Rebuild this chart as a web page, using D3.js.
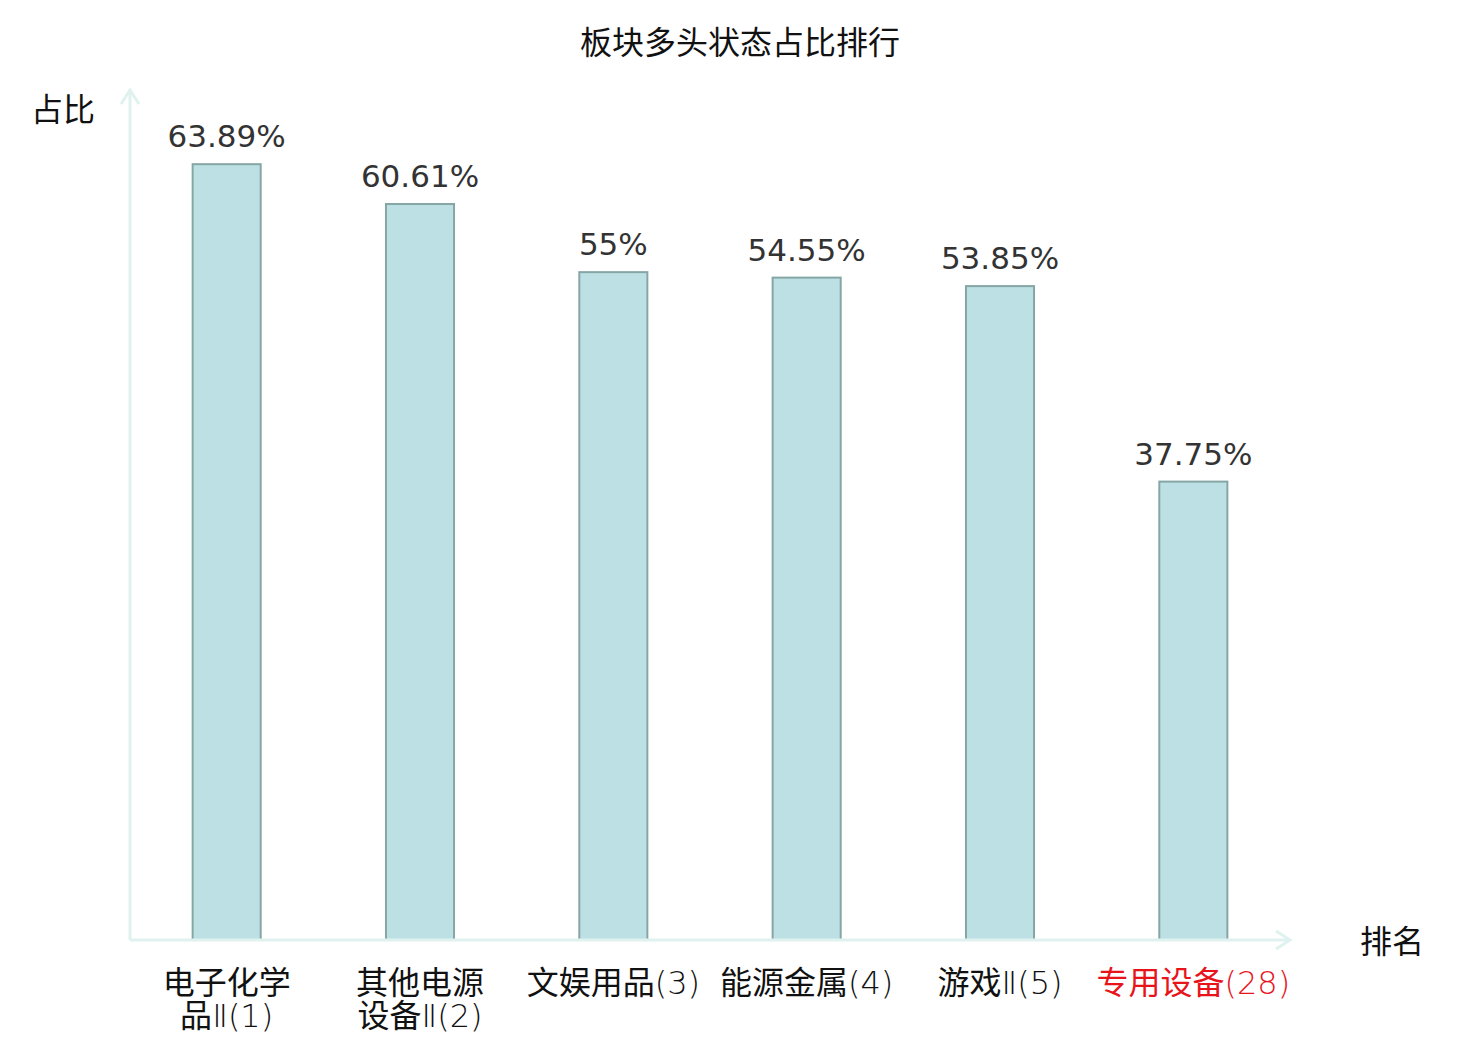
<!DOCTYPE html>
<html>
<head>
<meta charset="utf-8">
<script src="https://cdn.jsdelivr.net/npm/d3@7"></script>
<style>
  body { margin: 0; background: #fff; }
  svg { display: block; }
  text { font-family: "DejaVu Sans", "Noto Sans CJK SC", sans-serif; }
  .cjk { font-family: "Noto Sans CJK SC", sans-serif; }
  .thin { font-family: "DejaVu Sans", sans-serif; font-weight: 200; }
</style>
</head>
<body>
<svg width="1480" height="1040"></svg>
<script>
var categories = ["电子化学品Ⅱ(1)", "其他电源设备Ⅱ(2)", "文娱用品(3)", "能源金属(4)", "游戏Ⅱ(5)", "专用设备(28)"];
var labelLines = [["电子化学", "品Ⅱ(1)"], ["其他电源", "设备Ⅱ(2)"], ["文娱用品(3)"], ["能源金属(4)"], ["游戏Ⅱ(5)"], ["专用设备(28)"]];
var values = [63.89, 60.61, 55, 54.55, 53.85, 37.75];
var highlight = [false, false, false, false, false, true];

var svg = d3.select("svg"),
    margin = {top: 90, right: 190, bottom: 100, left: 130},
    width = +svg.attr("width") - margin.left - margin.right,
    height = +svg.attr("height") - margin.top - margin.bottom;

var axisColor = "#dff2ef";

var xScale = d3.scaleBand().domain(categories).range([0, width]).paddingInner(0.648).paddingOuter(0.324);
var yScale = d3.scaleLinear().domain([0, 70]).range([height, 0]);

var g = svg.append("g")
    .attr("transform", "translate(" + margin.left + "," + margin.top + ")");

// title
svg.append("text")
    .attr("class", "cjk")
    .attr("x", 740)
    .attr("y", 54)
    .attr("text-anchor", "middle")
    .attr("font-size", 32)
    .attr("fill", "#111")
    .text("板块多头状态占比排行");

// bars
g.selectAll(".bar")
    .data(values)
    .enter().append("rect")
    .attr("class", "bar")
    .attr("x", function (d, i) { return xScale(categories[i]); })
    .attr("y", function (d) { return yScale(d); })
    .attr("width", xScale.bandwidth())
    .attr("height", function (d) { return height - yScale(d); })
    .attr("fill", "#bce0e3")
    .attr("stroke", "#86a6a6")
    .attr("stroke-width", 2);

// value labels
g.selectAll(".val")
    .data(values)
    .enter().append("text")
    .attr("class", "val")
    .attr("x", function (d, i) { return xScale(categories[i]) + xScale.bandwidth() / 2; })
    .attr("y", function (d) { return yScale(d) - 17; })
    .attr("text-anchor", "middle")
    .attr("font-size", 31)
    .attr("fill", "#333")
    .text(function (d) { return d + "%"; });

// axes
g.append("line")
    .attr("x1", 0).attr("x2", 0)
    .attr("y1", height).attr("y2", 0)
    .attr("stroke", axisColor).attr("stroke-width", 3);
g.append("path")
    .attr("d", "M-9,14L0,0L9,14")
    .attr("fill", "none")
    .attr("stroke", axisColor).attr("stroke-width", 3);

g.append("line")
    .attr("x1", 0).attr("x2", width)
    .attr("y1", height).attr("y2", height)
    .attr("stroke", axisColor).attr("stroke-width", 3);
g.append("path")
    .attr("d", "M" + (width - 14) + "," + (height - 9) + "L" + width + "," + height + "L" + (width - 14) + "," + (height + 9))
    .attr("fill", "none")
    .attr("stroke", axisColor).attr("stroke-width", 3);

// category labels: CJK runs in Noto, the rest in thin DejaVu
function runs(s) {
    return s.match(/[\u4e00-\u9fff]+|[^\u4e00-\u9fff]+/g);
}
var xl = g.selectAll(".xl")
    .data(categories)
    .enter().append("text")
    .attr("class", "xl")
    .attr("text-anchor", "middle")
    .attr("font-size", 32)
    .attr("fill", function (d, i) { return highlight[i] ? "#e8141c" : "#111"; })
    .attr("transform", function (d) { return "translate(" + (xScale(d) + xScale.bandwidth() / 2) + "," + (height + 54) + ")"; });
xl.each(function (d, i) {
    var t = d3.select(this);
    labelLines[i].forEach(function (line, j) {
        runs(line).forEach(function (r, k) {
            var ts = t.append("tspan")
                .attr("class", /[\u4e00-\u9fff]/.test(r) ? "cjk" : "thin")
                .text(r);
            if (k === 0) ts.attr("x", 0).attr("y", j * 33);
        });
    });
});

// axis names
svg.append("text")
    .attr("class", "cjk")
    .attr("x", 63).attr("y", 121)
    .attr("text-anchor", "middle")
    .attr("font-size", 32)
    .attr("fill", "#111")
    .text("占比");

svg.append("text")
    .attr("class", "cjk")
    .attr("x", 1392).attr("y", 953)
    .attr("text-anchor", "middle")
    .attr("font-size", 32)
    .attr("fill", "#111")
    .text("排名");
</script>
</body>
</html>
